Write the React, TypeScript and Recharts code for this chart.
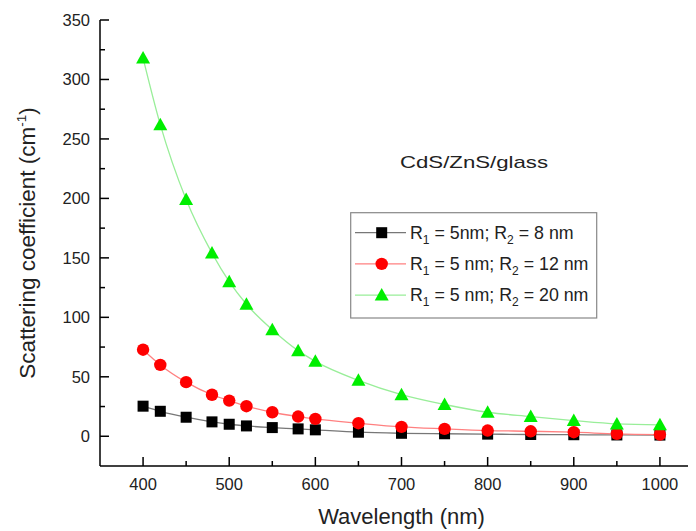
import React from 'react';
import { LineChart, Line, XAxis, YAxis } from 'recharts';

// wavelength (nm) and scattering coefficient (cm^-1)
const wavelengths = [400, 420, 450, 480, 500, 520, 550, 580, 600, 650, 700, 750, 800, 850, 900, 950, 1000];
const r2_8nm = [25.3, 21, 16, 12.1, 10.1, 8.7, 7.3, 6.2, 5.4, 3.4, 2.5, 2.1, 1.8, 1.5, 1.3, 1.1, 1.0];
const r2_12nm = [72.8, 60, 45.5, 34.9, 30, 25.3, 20.2, 16.6, 14.6, 11, 7.9, 6.2, 4.8, 4.2, 3.4, 2.0, 1.4];
const r2_20nm = [318, 262, 199, 154, 130, 111, 89.6, 72, 63, 47, 35, 26.7, 20.2, 16.6, 13.2, 10.4, 9.6];

const xTicks = [400, 450, 500, 550, 600, 650, 700, 750, 800, 850, 900, 950, 1000];
const yTicks = [0, 25, 50, 75, 100, 125, 150, 175, 200, 225, 250, 275, 300, 325, 350];

const legendRows = [
  { key: 'a', r1: '5nm', r2: '8 nm', color: '#000000', line: '#777777', shape: 'square' },
  { key: 'b', r1: '5 nm', r2: '12 nm', color: '#ff0000', line: '#ff8080', shape: 'circle' },
  { key: 'c', r1: '5 nm', r2: '20 nm', color: '#00ee00', line: '#99ee99', shape: 'triangle' },
];

const rows = wavelengths.map((w, i) => ({ x: w, a: r2_8nm[i], b: r2_12nm[i], c: r2_20nm[i] }));

const FONT = '"Liberation Sans", Arial, sans-serif';

const marker = (shape: string, color: string, cx: number, cy: number, key?: any) => {
  if (shape === 'square') return <rect key={key} x={cx - 5.5} y={cy - 5.5} width={11} height={11} fill={color} />;
  if (shape === 'circle') return <circle key={key} cx={cx} cy={cy} r={6.2} fill={color} />;
  return <polygon key={key} points={`${cx},${cy - 7} ${cx + 7},${cy + 5.5} ${cx - 7},${cy + 5.5}`} fill={color} />;
};

const BottomTick = ({ x, y, payload }: any) => {
  const major = payload.value % 100 === 0;
  return (
    <g>
      <line x1={x} x2={x} y1={y} y2={y - (major ? 9 : 5)} stroke="#000" strokeWidth={1.5} />
      {major && (
        <text x={x} y={y + 24} textAnchor="middle" fontSize={16.5} fill="#222" fontFamily={FONT}>
          {payload.value}
        </text>
      )}
    </g>
  );
};

const TopTick = ({ x, y, payload }: any) => {
  const major = payload.value % 100 === 0;
  return <line x1={x} x2={x} y1={y} y2={y + (major ? 9 : 5)} stroke="#000" strokeWidth={1.5} />;
};

const LeftTick = ({ x, y, payload }: any) => {
  const major = payload.value % 50 === 0;
  return (
    <g>
      <line x1={x} x2={x + (major ? 9 : 5)} y1={y} y2={y} stroke="#000" strokeWidth={1.5} />
      {major && (
        <text x={x - 10} y={y + 6} textAnchor="end" fontSize={16.5} fill="#222" fontFamily={FONT}>
          {payload.value}
        </text>
      )}
    </g>
  );
};

const RightTick = ({ x, y, payload }: any) => {
  const major = payload.value % 50 === 0;
  return <line x1={x} x2={x - (major ? 9 : 5)} y1={y} y2={y} stroke="#000" strokeWidth={1.5} />;
};

const XTitle = ({ viewBox }: any) => (
  <text x={viewBox.x + viewBox.width / 2} y={viewBox.y + 58} textAnchor="middle" fontSize={22} fill="#222" fontFamily={FONT}>
    Wavelength (nm)
  </text>
);

const YTitle = ({ viewBox }: any) => {
  const cx = 27;
  const cy = viewBox.y + viewBox.height / 2;
  return (
    <text x={cx} y={cy} transform={`rotate(-90 ${cx} ${cy})`} textAnchor="middle" fontSize={22.5} fill="#222" fontFamily={FONT}>
      Scattering coefficient (cm
      <tspan fontSize={13.5} dy={-9}>-1</tspan>
      <tspan dy={9}>)</tspan>
    </text>
  );
};

export default function App() {
  return (
    <div style={{ position: 'relative', width: 688, height: 523, overflow: 'hidden' }}>
      <LineChart width={730} height={523} data={rows} margin={{ top: 12, right: 35, left: 0, bottom: 0 }}>
        <XAxis
          xAxisId="bottom"
          type="number"
          dataKey="x"
          domain={[350, 1050]}
          ticks={xTicks}
          interval={0}
          height={65}
          tickSize={0}
          tickMargin={0}
          tickLine={false}
          axisLine={{ stroke: '#000', strokeWidth: 1.5 }}
          tick={<BottomTick />}
          label={<XTitle />}
        />
        <XAxis
          xAxisId="top"
          orientation="top"
          type="number"
          dataKey="x"
          domain={[350, 1050]}
          ticks={xTicks}
          interval={0}
          height={0}
          tickSize={0}
          tickMargin={0}
          tickLine={false}
          axisLine={{ stroke: '#000', strokeWidth: 1.5 }}
          tick={<TopTick />}
        />
        <YAxis
          yAxisId="left"
          type="number"
          domain={[-25, 350]}
          ticks={yTicks}
          interval={0}
          width={92}
          tickSize={0}
          tickMargin={0}
          tickLine={false}
          axisLine={{ stroke: '#000', strokeWidth: 1.5 }}
          tick={<LeftTick />}
          label={<YTitle />}
        />
        <YAxis
          yAxisId="right"
          orientation="right"
          type="number"
          domain={[-25, 350]}
          ticks={yTicks}
          interval={0}
          width={0}
          tickSize={0}
          tickMargin={0}
          tickLine={false}
          axisLine={{ stroke: '#000', strokeWidth: 1.5 }}
          tick={<RightTick />}
        />
        {legendRows.map((s) => (
          <Line
            key={s.key}
            xAxisId="bottom"
            yAxisId="left"
            type="monotone"
            dataKey={s.key}
            stroke={s.line}
            strokeWidth={1.3}
            dot={(p: any) => marker(s.shape, s.color, p.cx, p.cy, p.index)}
            activeDot={false}
            isAnimationActive={false}
          />
        ))}
      </LineChart>
      <svg width={688} height={523} style={{ position: 'absolute', left: 0, top: 0, pointerEvents: 'none' }} fontFamily={FONT}>
        <text x={392} y={160} fontSize={17} fill="#222" textLength={148} lengthAdjust="spacingAndGlyphs">
          CdS/ZnS/glass
        </text>
        <rect x={342.7} y={204.7} width={246} height={105.3} fill="#fff" stroke="#888" strokeWidth={1.2} />
        {legendRows.map((s, i) => {
          const cy = 224.7 + i * 31.2;
          return (
            <g key={s.key}>
              <line x1={347} x2={398} y1={cy} y2={cy} stroke={s.line} strokeWidth={1.3} />
              {marker(s.shape, s.color, 373.7, cy)}
              <text x={402} y={cy + 6} fontSize={17.8} fill="#222">
                R<tspan fontSize={12} dy={5}>1</tspan>
                <tspan dy={-5}>{` = ${s.r1}; R`}</tspan>
                <tspan fontSize={12} dy={5}>2</tspan>
                <tspan dy={-5}>{` = ${s.r2}`}</tspan>
              </text>
            </g>
          );
        })}
      </svg>
    </div>
  );
}
